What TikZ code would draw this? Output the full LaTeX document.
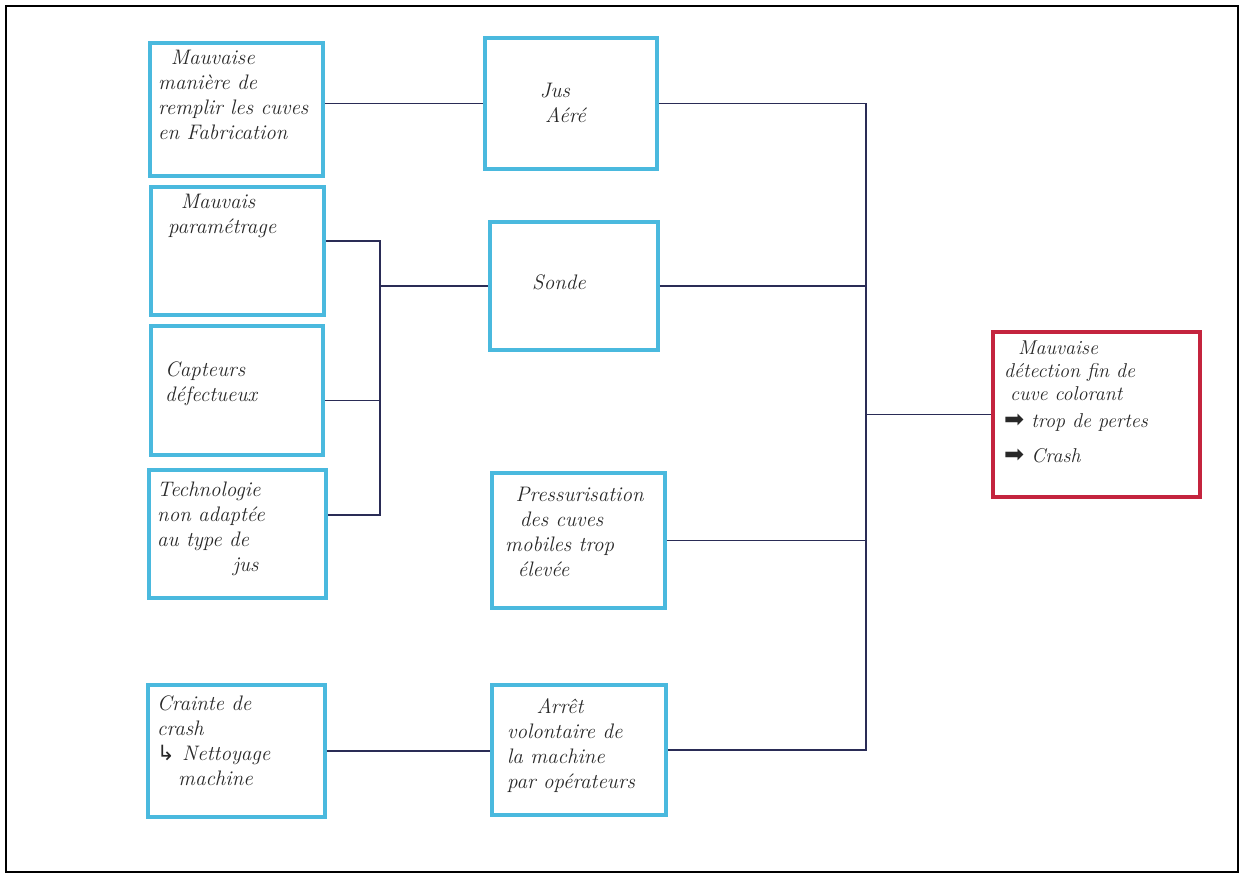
\documentclass[tikz,border=0pt]{standalone}
\usepackage{fontspec}
\newfontfamily\symfont{DejaVu Sans}
\usepackage{tikz}
\usetikzlibrary{calc}

\definecolor{causeblue}{RGB}{74,185,222}
\definecolor{effectred}{RGB}{196,36,62}
\definecolor{linknavy}{RGB}{42,44,86}
\definecolor{inkgray}{RGB}{40,40,40}

\newcommand{\bigarrow}{{\symfont\fontsize{24}{24}\selectfont ➡}}

\begin{document}
\begin{tikzpicture}[x=1pt,y=1pt,yscale=-1,xscale=1,
  cause/.style={draw=causeblue, line width=3.5pt, inner sep=0pt},
  effect/.style={draw=effectred, line width=3.5pt, inner sep=0pt},
  link/.style={draw=linknavy, line width=1.3pt},
  hand/.style={text=inkgray, inner sep=0pt, align=left, font=\fontsize{21}{25}\selectfont\itshape}]
\useasboundingbox (0,0) rectangle (1243,874);
%frame
\draw [line width=2pt] (6,6) rectangle (1238,872);

%Boxes, left column
\node [cause, minimum width=173, minimum height=133] (maniere) at (236.5,109.5) {};
\node [cause, minimum width=173, minimum height=128] (parametrage) at (237.5,251) {};
\node [cause, minimum width=172, minimum height=129] (capteurs) at (237,390.5) {};
\node [cause, minimum width=177, minimum height=128] (technologie) at (237.5,534) {};
\node [cause, minimum width=177, minimum height=132] (crainte) at (236.5,751) {};
%Boxes, middle column
\node [cause, minimum width=172, minimum height=131] (jus) at (571,103.5) {};
\node [cause, minimum width=168, minimum height=128] (sonde) at (574,286) {};
\node [cause, minimum width=173, minimum height=135] (pression) at (578.5,540.5) {};
\node [cause, minimum width=174, minimum height=130] (arret) at (579,750) {};
%Effect
\node [effect, minimum width=207, minimum height=165] (detection) at (1096.5,414.5) {};

% Text Node
\node [hand, anchor=north west] (t-maniere) at (158,50) {\hspace{0.6em}Mauvaise\\manière de\\remplir les cuves\\en Fabrication};
% Text Node
\node [hand, anchor=north west] (t-parametrage) at (168,194) {\hspace{0.6em}Mauvais\\paramétrage};
% Text Node
\node [hand, anchor=north west] (t-capteurs) at (165,362) {Capteurs\\défectueux};
% Text Node
\node [hand, anchor=north west] (t-technologie) at (157,482) {Technologie\\non adaptée\\au type de\\\hspace{3.6em}jus};
% Text Node
\node [hand, anchor=north west] (t-crainte) at (157,696) {Crainte de\\crash\\{\symfont ↳} Nettoyage\\\hspace{1em}machine};
% Text Node
\node [hand, align=center] (t-jus) at (555,103) {Jus\\\hspace{1em}Aéré};
% Text Node
\node [hand] (t-sonde) at (559,282) {Sonde};
% Text Node
\node [hand, anchor=north west] (t-pression) at (505,487) {\hspace{0.5em}Pressurisation\\\hspace{0.7em}des cuves\\mobiles trop\\\hspace{0.6em}élevée};
% Text Node
\node [hand, anchor=north west] (t-arret) at (507,698) {\hspace{1.4em}Arrêt\\volontaire de\\la machine\\par opérateurs};
% Text Node
\node [hand, anchor=north west, font=\fontsize{20}{23}\selectfont\itshape] (t-detection) at (1004,341) {\hspace{0.7em}Mauvaise\\détection fin de\\\hspace{0.3em}cuve colorant\\[4pt]\bigarrow{} trop de pertes\\[12pt]\bigarrow{} Crash};

%Straight Lines
\coordinate (busL) at (380,285);
\coordinate (busR) at (866,412);
\draw [link] (maniere.east |- jus.west) -- (jus.west);
\draw [link] ([yshift=-10pt]parametrage.east) -| (busL) |- ([yshift=-19pt]technologie.east);
\draw [link] ([yshift=10pt]capteurs.east) -- ([yshift=10pt]capteurs.east -| busL);
\draw [link] (busL |- sonde.west) -- (sonde.west);
\draw [link] (crainte.east) -- (crainte.east -| arret.west);
\draw [link] (jus.east) -| (busR) |- (arret.east);
\draw [link] (sonde.east) -- (sonde.east -| busR);
\draw [link] (pression.east) -- (pression.east -| busR);
\draw [link] (busR |- detection.west) -- (detection.west);

\end{tikzpicture}
\end{document}
